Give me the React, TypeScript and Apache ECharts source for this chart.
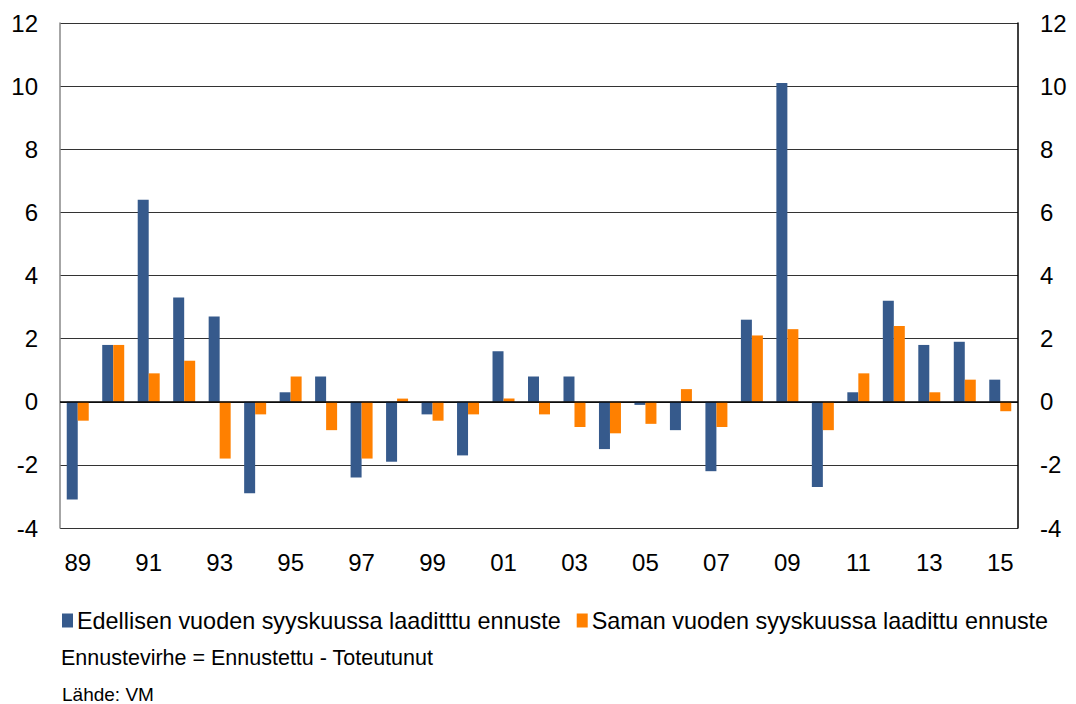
import React, { useEffect, useRef } from "react";
import * as echarts from "echarts";

const years = ["89","90","91","92","93","94","95","96","97","98","99","00","01","02","03","04","05","06","07","08","09","10","11","12","13","14","15"];
const previousYear = [-3.1,1.8,6.4,3.3,2.7,-2.9,0.3,0.8,-2.4,-1.9,-0.4,-1.7,1.6,0.8,0.8,-1.5,-0.1,-0.9,-2.2,2.6,10.1,-2.7,0.3,3.2,1.8,1.9,0.7];
const sameYear = [-0.6,1.8,0.9,1.3,-1.8,-0.4,0.8,-0.9,-1.8,0.1,-0.6,-0.4,0.1,-0.4,-0.8,-1.0,-0.7,0.4,-0.8,2.1,2.3,-0.9,0.9,2.4,0.3,0.7,-0.3];
const seriesNames = ["Edellisen vuoden syyskuussa laaditttu ennuste", "Saman vuoden syyskuussa laadittu ennuste"];
const note = "Ennustevirhe = Ennustettu - Toteutunut";
const source = "Lähde: VM";

const FONT = "Liberation Sans, Arial, sans-serif";

export default function App() {
  const ref = useRef<HTMLDivElement>(null);
  useEffect(() => {
    if (!ref.current) return;
    const chart = echarts.init(ref.current, null, { renderer: "svg" });
    const yAxisBase = {
      type: "value",
      min: -4,
      max: 12,
      interval: 2,
      axisTick: { show: false },
      splitLine: { show: true, lineStyle: { color: "#333", width: 1 } },
      axisLabel: { fontFamily: FONT, fontSize: 24, color: "#000", margin: 22 },
    };
    chart.setOption({
      animation: false,
      textStyle: { fontFamily: FONT },
      grid: { left: 60, right: 58, top: 23, bottom: 176, containLabel: false },
      legend: {
        left: 57,
        top: 604,
        itemWidth: 11,
        itemHeight: 14,
        itemGap: 16,
        icon: "rect",
        textStyle: { fontFamily: FONT, fontSize: 23.4, color: "#000", padding: [0, 0, 0, -1] },
        data: seriesNames,
      },
      xAxis: {
        type: "category",
        data: years,
        axisLine: { show: false },
        axisTick: { show: false },
        axisLabel: { interval: 1, fontFamily: FONT, fontSize: 24, color: "#000", margin: 22 },
      },
      yAxis: [
        { ...yAxisBase, position: "left", axisLine: { show: true, lineStyle: { color: "#888", width: 1.5 } } },
        { ...yAxisBase, position: "right", splitLine: { show: false }, axisLine: { show: true, lineStyle: { color: "#000", width: 1.5 } } },
      ],
      series: [
        {
          name: seriesNames[0],
          type: "bar",
          data: previousYear,
          itemStyle: { color: "#365A8C" },
          barGap: "0%",
          barCategoryGap: "38%",
          markLine: {
            silent: true,
            symbol: "none",
            label: { show: false },
            lineStyle: { color: "#000", width: 1.5, type: "solid" },
            data: [{ yAxis: 0 }],
          },
        },
        {
          name: seriesNames[1],
          type: "bar",
          data: sameYear,
          itemStyle: { color: "#FF8000" },
          barGap: "0%",
          barCategoryGap: "38%",
        },
      ],
      graphic: [
        { type: "text", x: 61, y: 658, style: { text: note, fontFamily: FONT, fontSize: 21.5, fill: "#000", verticalAlign: "middle" } },
        { type: "text", x: 62, y: 694, style: { text: source, fontFamily: FONT, fontSize: 19, fill: "#000", verticalAlign: "middle" } },
      ],
    });
    return () => chart.dispose();
  }, []);
  return <div ref={ref} style={{ width: 1076, height: 704, position: "absolute", left: 0, top: 0 }} />;
}
